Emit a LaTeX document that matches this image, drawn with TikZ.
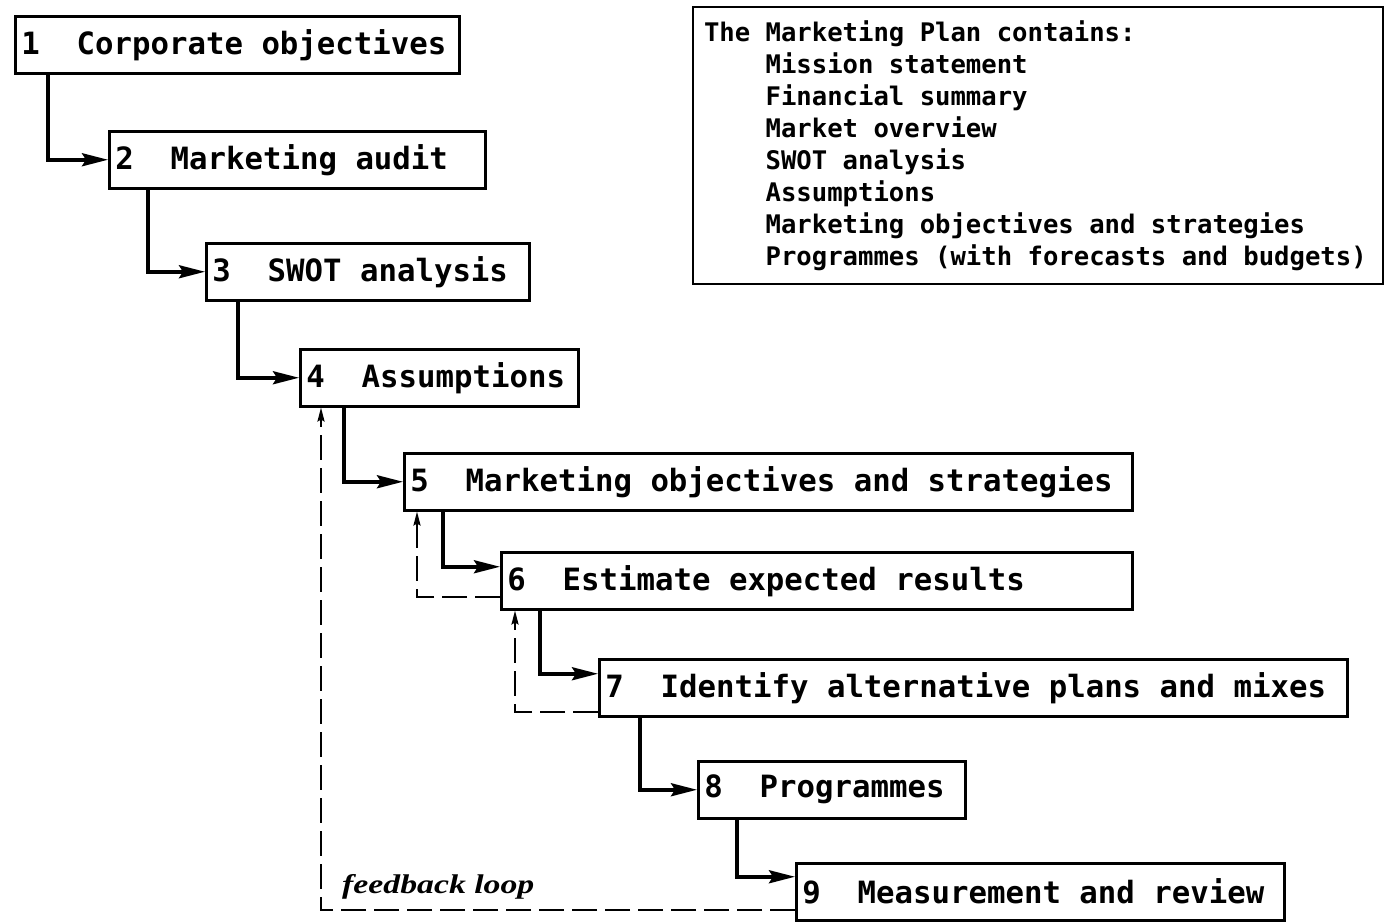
\documentclass[tikz,border=0pt]{standalone}
\usepackage{fontspec}
\usepackage{graphicx}
\newfontfamily\boxfont{DejaVu Sans Mono}
\newfontfamily\fbfont{Liberation Serif}
\usetikzlibrary{arrows.meta,calc}
\newcommand\monosp{\spaceskip=0.602em\relax\xspaceskip=0.602em\relax}
\newcommand\Sp{\hspace*{0.602em}}
\begin{document}
\begin{tikzpicture}[x=1pt,y=-1pt,
  box/.style={draw,line width=2.5pt,anchor=north west,minimum height=57pt,inner xsep=6pt,inner ysep=0pt,align=left,
    font=\boxfont\bfseries\fontsize{30.7}{32}\selectfont\monosp},
  legend/.style={draw,line width=2pt,anchor=north west,inner xsep=11pt,inner ysep=0pt,align=left,
    font=\boxfont\bfseries\fontsize{25.6}{32}\selectfont\monosp},
  flow/.style={line width=3.5pt,-{Stealth[length=26pt,width=13pt,inset=4pt]}},
  fb/.style={line width=2pt,dash pattern=on 25pt off 8pt,-{Stealth[length=14pt,width=7pt,inset=2pt]}},
  fblabel/.style={anchor=base west,inner sep=0pt,font=\fbfont\bfseries\itshape\fontsize{27}{30}\selectfont}]
\fill[white] (0,0) rectangle (1384,921);
\useasboundingbox (0,0) rectangle (1384,921);

\node[box,text width=432pt,minimum width=444pt] (b1) at (14,15) {1\Sp\Sp Corporate\Sp objectives};
\node[box,text width=364pt,minimum width=376pt] (b2) at (108,130) {2\Sp\Sp Marketing\Sp audit};
\node[box,text width=311pt,minimum width=323pt] (b3) at (205,242) {3\Sp\Sp SWOT\Sp analysis};
\node[box,text width=266pt,minimum width=278pt] (b4) at (299,348) {4\Sp\Sp Assumptions};
\node[box,text width=716pt,minimum width=728pt] (b5) at (403,452) {5\Sp\Sp Marketing\Sp objectives\Sp and\Sp strategies};
\node[box,text width=619pt,minimum width=631pt] (b6) at (500,551) {6\Sp\Sp Estimate\Sp expected\Sp results};
\node[box,text width=736pt,minimum width=748pt] (b7) at (598,658) {7\Sp\Sp Identify\Sp alternative\Sp plans\Sp and\Sp mixes};
\node[box,text width=255pt,minimum width=267pt] (b8) at (697,760) {8\Sp\Sp Programmes};
\node[box,text width=476pt,minimum width=488pt] (b9) at (795,862) {9\Sp\Sp Measurement\Sp and\Sp review};

\node[legend,text width=668pt,minimum width=690pt,minimum height=277pt] (leg) at (692,6)
  {The\Sp Marketing\Sp Plan\Sp contains:\\
   \Sp\Sp\Sp\Sp Mission\Sp statement\\
   \Sp\Sp\Sp\Sp Financial\Sp summary\\
   \Sp\Sp\Sp\Sp Market\Sp overview\\
   \Sp\Sp\Sp\Sp SWOT\Sp analysis\\
   \Sp\Sp\Sp\Sp Assumptions\\
   \Sp\Sp\Sp\Sp Marketing\Sp objectives\Sp and\Sp strategies\\
   \Sp\Sp\Sp\Sp Programmes\Sp (with\Sp forecasts\Sp and\Sp budgets)};

\draw[flow] ($(b1.south west)+(34,0)$) |- (b2.west);
\draw[flow] ($(b2.south west)+(40,0)$) |- (b3.west);
\draw[flow] ($(b3.south west)+(33,0)$) |- (b4.west);
\draw[flow] ($(b4.south west)+(45,0)$) |- (b5.west);
\draw[flow] ($(b5.south west)+(40,0)$) |- ($(b6.west)+(0,-14)$);
\draw[flow] ($(b6.south west)+(40,0)$) |- ($(b7.west)+(0,-14)$);
\draw[flow] ($(b7.south west)+(42,0)$) |- (b8.west);
\draw[flow] ($(b8.south west)+(40,0)$) |- ($(b9.west)+(0,-15)$);

\draw[fb] ($(b6.west)+(0,16)$) -| ($(b5.south west)+(14,0)$);
\draw[fb] ($(b7.west)+(0,24)$) -| ($(b6.south west)+(15,0)$);
\draw[fb] ($(b9.west)+(0,18)$) -| ($(b4.south west)+(22,0)$);

\node[fblabel] (fbl) at (342,893) {\scalebox{1.25}[1]{feedback loop}};
\end{tikzpicture}
\end{document}
